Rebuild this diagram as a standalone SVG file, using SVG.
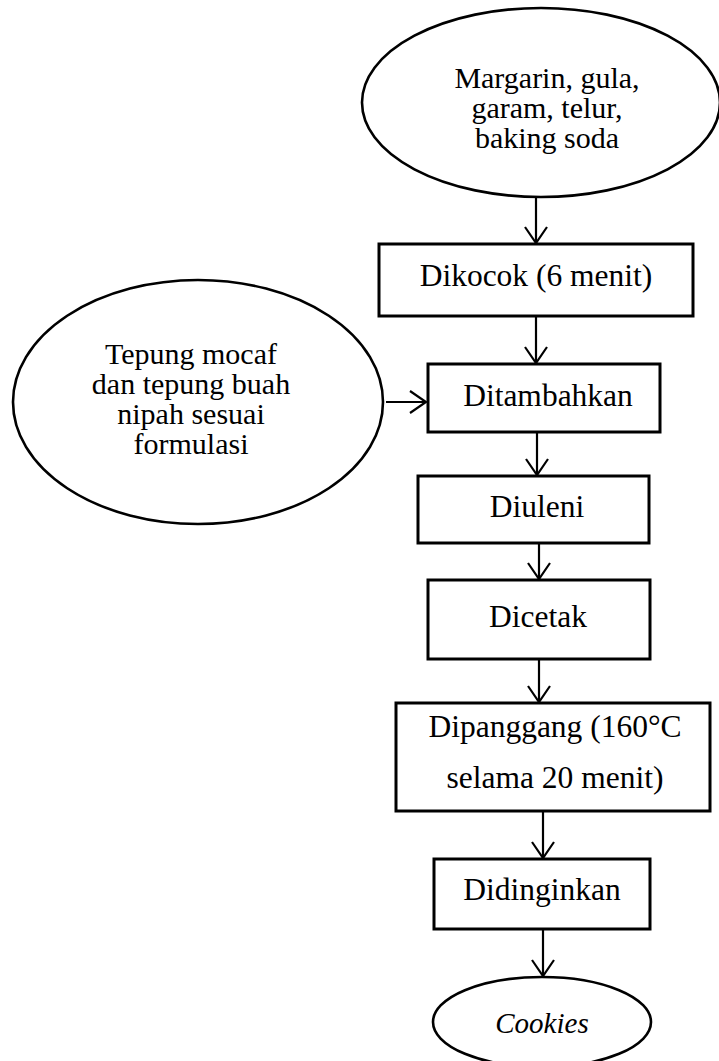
<svg xmlns="http://www.w3.org/2000/svg" width="719" height="1061" viewBox="0 0 719 1061">
<defs>
<style>
.shape{fill:#fff;stroke:#000;stroke-width:2.6}
.box{stroke-width:3}
.t{font-family:"Liberation Serif","Times New Roman",serif;fill:#000;text-anchor:middle}
.b{font-size:31.5px}
.e{font-size:30px}
.conn line{stroke:#000;stroke-width:2.2}
</style>
<marker id="arr" markerWidth="20" markerHeight="26" refX="17" refY="12" orient="auto" markerUnits="userSpaceOnUse" viewBox="0 0 20 24">
<path d="M1,1 L17,12 L1,23" fill="none" stroke="#000" stroke-width="2.2"/>
</marker>
</defs>
<rect width="719" height="1061" fill="#fff"/>
<g id="n-bahan">
<ellipse class="shape" cx="541" cy="102.5" rx="179" ry="94.5"/>
<text class="t e" x="547" y="88">Margarin, gula,</text>
<text class="t e" x="547" y="118">garam, telur,</text>
<text class="t e" x="547" y="148">baking soda</text>
</g>
<g id="n-dikocok">
<rect class="shape box" x="379" y="244" width="314" height="72"/>
<text class="t b" x="536" y="286">Dikocok (6 menit)</text>
</g>
<g id="n-tepung">
<ellipse class="shape" cx="198" cy="402" rx="185" ry="122"/>
<text class="t e" x="191" y="364">Tepung mocaf</text>
<text class="t e" x="191" y="394">dan tepung buah</text>
<text class="t e" x="191" y="424">nipah sesuai</text>
<text class="t e" x="191" y="454">formulasi</text>
</g>
<g id="n-ditambahkan">
<rect class="shape box" x="428" y="364" width="232" height="68"/>
<text class="t b" x="548" y="406">Ditambahkan</text>
</g>
<g id="n-diuleni">
<rect class="shape box" x="418" y="476" width="231" height="67"/>
<text class="t b" x="537" y="517">Diuleni</text>
</g>
<g id="n-dicetak">
<rect class="shape box" x="428" y="580" width="222" height="79"/>
<text class="t b" x="538" y="627">Dicetak</text>
</g>
<g id="n-dipanggang">
<rect class="shape box" x="396" y="703" width="314" height="108"/>
<text class="t b" x="555" y="737">Dipanggang (160°C</text>
<text class="t b" x="555" y="788">selama 20 menit)</text>
</g>
<g id="n-didinginkan">
<rect class="shape box" x="434" y="859" width="216" height="70"/>
<text class="t b" x="542" y="900">Didinginkan</text>
</g>
<g id="n-cookies">
<ellipse class="shape" cx="542" cy="1022" rx="109" ry="45"/>
<text class="t" x="542" y="1033" font-size="29" font-style="italic">Cookies</text>
</g>
<g id="connectors" class="conn">
<line x1="536" y1="197" x2="536" y2="243" marker-end="url(#arr)"/>
<line x1="536" y1="316" x2="536" y2="363" marker-end="url(#arr)"/>
<line x1="386" y1="402" x2="426" y2="402" marker-end="url(#arr)"/>
<line x1="537" y1="432" x2="537" y2="475" marker-end="url(#arr)"/>
<line x1="539" y1="543" x2="539" y2="579" marker-end="url(#arr)"/>
<line x1="539" y1="659" x2="539" y2="702" marker-end="url(#arr)"/>
<line x1="543" y1="811" x2="543" y2="858" marker-end="url(#arr)"/>
<line x1="543" y1="929" x2="543" y2="976" marker-end="url(#arr)"/>
</g>
</svg>
